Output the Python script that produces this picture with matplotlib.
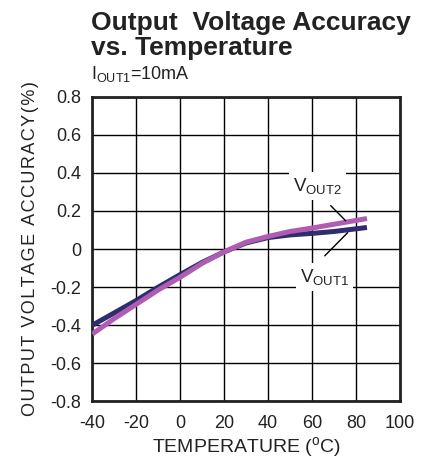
import matplotlib
matplotlib.use('Agg')
import matplotlib.pyplot as plt

plt.rcParams['font.family'] = ['Liberation Sans', 'DejaVu Sans']
plt.rcParams['mathtext.fontset'] = 'custom'
plt.rcParams['mathtext.rm'] = 'Liberation Sans'
plt.rcParams['mathtext.it'] = 'Liberation Sans'
plt.rcParams['axes.unicode_minus'] = False

# temperatures (degC) and accuracy (%)
temp_1 = [-40, -30, -20, -10, 0, 10, 20, 30, 40, 50, 60, 70, 85]
vout1 = [-0.40, -0.335, -0.27, -0.20, -0.134, -0.07, -0.015, 0.032, 0.06, 0.074, 0.082, 0.092, 0.113]
temp_2 = [-40, -30, -20, -10, 0, 10, 20, 30, 40, 50, 60, 70, 85]
vout2 = [-0.446, -0.365, -0.29, -0.215, -0.148, -0.075, -0.015, 0.036, 0.066, 0.092, 0.11, 0.13, 0.16]

x_ticks = [-40, -20, 0, 20, 40, 60, 80, 100]
y_ticks = [-0.8, -0.6, -0.4, -0.2, 0, 0.2, 0.4, 0.6, 0.8]
y_tick_labels = ['-0.8', '-0.6', '-0.4', '-0.2', '0', '0.2', '0.4', '0.6', '0.8']

# leader lines for the curve labels: (start, end) in data units
lead_2 = ((67.6, 0.238), (76.2, 0.138))
lead_1 = ((64.9, -0.046), (77.1, 0.096))

fig = plt.figure(figsize=(4.25, 4.62), dpi=100)
ax = fig.add_axes([0.2172, 0.131, 0.7238, 0.66])

ax.set_xlim(-40, 100)
ax.set_ylim(-0.8, 0.8)
ax.set_xticks(x_ticks)
ax.set_yticks(y_ticks)
ax.set_yticklabels(y_tick_labels)
ax.tick_params(length=0, labelsize=13, pad=8, colors='#222222')
ax.tick_params(axis='x', pad=10)
ax.grid(True, color='black', linewidth=1.0)
ax.set_axisbelow(True)
for s in ax.spines.values():
    s.set_linewidth(2)
    s.set_color('#222222')

ax.plot(temp_1, vout1, color='#2e2d6e', linewidth=3.6, solid_capstyle='butt', zorder=3)
ax.plot(temp_2, vout2, color='#b05cb5', linewidth=3.6, solid_capstyle='butt', zorder=4)

box = dict(facecolor='white', edgecolor='none', pad=3)
ax.text(51.2, 0.306, r'V$_{\rm OUT2}$', fontsize=13.5, color='#222222', bbox=box, zorder=5)
ax.text(54.4, -0.175, r'V$_{\rm OUT1}$', fontsize=13.5, color='#222222', bbox=box, zorder=5)
for (x0, y0), (x1, y1) in (lead_2, lead_1):
    ax.annotate('', xy=(x1, y1), xytext=(x0, y0),
                arrowprops=dict(arrowstyle='-', color='black', lw=1), zorder=6)

ax.set_xlabel(r'TEMPERATURE ($^{\rm o}$C)', fontsize=14, color='#222222', labelpad=2)
ylab = '\u200a'.join('OUTPUT VOLTAGE ACCURACY(%)')
ax.set_ylabel(ylab, fontsize=13, color='#222222', labelpad=8)

fig.text(0.214, 0.935, 'Output  Voltage Accuracy', fontsize=19, fontweight='bold', color='#222222')
fig.text(0.214, 0.882, 'vs. Temperature', fontsize=19, fontweight='bold', color='#222222')
fig.text(0.214, 0.828, r'I$_{\rm OUT1}$=10mA', fontsize=13, color='#222222')

plt.savefig('out.png', dpi=100)
